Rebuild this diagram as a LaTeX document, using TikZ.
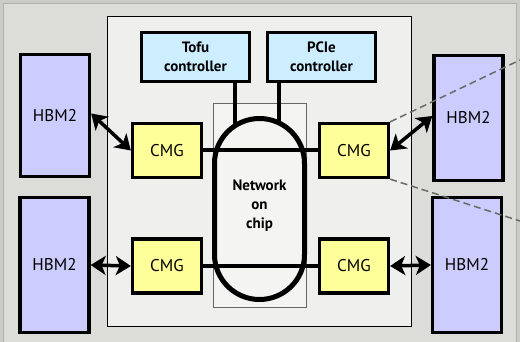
\documentclass[tikz,border=0pt]{standalone}
\usepackage{fontspec}
\setmainfont{PT Sans}
\usetikzlibrary{arrows.meta}
\definecolor{outerc}{HTML}{CACAC6}
\definecolor{bgc}{HTML}{DCDCD8}
\definecolor{framec}{HTML}{B0B0AC}
\definecolor{chipc}{HTML}{EFEFED}
\definecolor{nocc}{HTML}{F4F4F2}
\definecolor{hbmc}{HTML}{CCCCFF}
\definecolor{cmgc}{HTML}{FFFF99}
\definecolor{ctlc}{HTML}{CCEEFF}
\definecolor{dashc}{HTML}{6A6A66}
\begin{document}
\begin{tikzpicture}[x=1pt,y=-1pt,
  box/.style={draw=black,line width=3.3pt,inner sep=0pt,align=center},
  hbm/.style={box,fill=hbmc,minimum width=69pt,font=\fontsize{17}{19}\selectfont},
  cmg/.style={box,fill=cmgc,minimum width=69pt,minimum height=54pt,font=\fontsize{17}{19}\selectfont},
  ctl/.style={box,fill=ctlc,minimum width=108pt,minimum height=49pt,font=\bfseries\fontsize{15}{19}\selectfont},
  link/.style={line width=4pt},
  mem/.style={line width=3.5pt,{Stealth[length=15pt,width=19pt,inset=4pt]}-{Stealth[length=15pt,width=19pt,inset=4pt]}},
  zoomline/.style={draw=dashc,line width=1.5pt,dash pattern=on 7pt off 4pt}]
\useasboundingbox (0,0) rectangle (520,342);
% background
\fill[outerc] (0,0) rectangle (520,342);
\draw[framec,fill=bgc,line width=1.5pt] (3.5,3.5) rectangle (516.5,345);
% chip
\draw[fill=chipc,line width=1pt] (107.5,16.5) rectangle (411.5,326.5);
% network region
\draw[fill=nocc,draw=gray!80!black,line width=1pt] (213,104) rectangle (306,307);
% nodes
\node[ctl] (tofu) at (195.5,57) {Tofu\\controller};
\node[ctl] (pcie) at (321.5,57) {PCIe\\controller};
\coordinate (tofuin) at (235,140);
\coordinate (pciein) at (279,140);
\draw[link] (tofu.south -| tofuin) -- (tofuin);
\draw[link] (pcie.south -| pciein) -- (pciein);
\node[draw=black,line width=5pt,fill=nocc,rounded corners=45pt,minimum width=90pt,minimum height=181pt,inner sep=0pt] (noc) at (259.5,209) {};
\node[align=center,font=\bfseries\fontsize{15}{19}\selectfont] (noctext) at (259.5,206) {Network\\on\\chip};
\node[cmg] (cmgTL) at (167,150.5) {CMG};
\node[cmg] (cmgBL) at (167,266) {CMG};
\node[cmg] (cmgTR) at (354,150.5) {CMG};
\node[cmg] (cmgBR) at (354,266) {CMG};
\draw[link] (cmgTL.east) -- (cmgTR.west);
\draw[link] (cmgBL.east) -- (cmgBR.west);
\node[hbm,minimum height=122pt] (hbmTL) at (55,115.5) {HBM2};
\node[hbm,minimum height=135pt] (hbmBL) at (54.5,265) {HBM2};
\node[hbm,minimum height=125pt] (hbmTR) at (468.5,118) {HBM2};
\node[hbm,minimum height=135pt] (hbmBR) at (467,265) {HBM2};
% memory links
\draw[mem] ([yshift=2pt]hbmTL.east) -- (cmgTL.west);
\draw[mem] (cmgTR.east) -- ([yshift=2pt]hbmTR.west);
\draw[mem] (hbmBL.east) -- (cmgBL.west);
\draw[mem] (cmgBR.east) -- (hbmBR.west);
% zoom lines
\coordinate (zt) at (520,60);
\coordinate (zb) at (520,221);
\draw[zoomline] (cmgTR.north east) -- (zt);
\draw[zoomline] (cmgTR.south east) -- (zb);
\end{tikzpicture}
\end{document}
